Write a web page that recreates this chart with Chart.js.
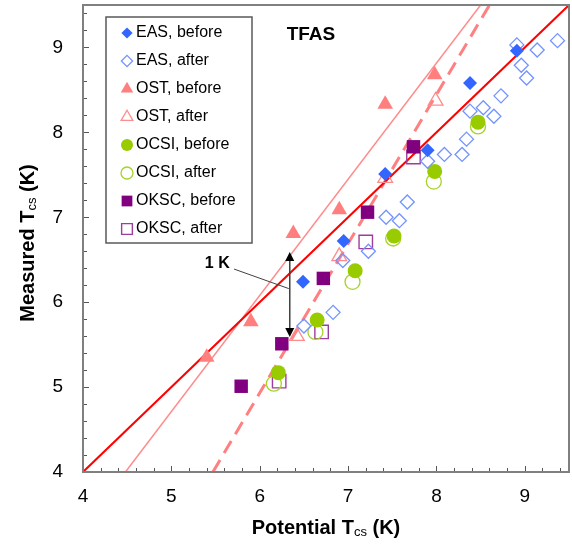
<!DOCTYPE html>
<html>
<head>
<meta charset="utf-8">
<script src="https://cdn.jsdelivr.net/npm/chart.js@4.4.1/dist/chart.umd.min.js"></script>
<style>
  html, body { margin: 0; padding: 0; background: #fff; overflow: hidden; }
  #wrap { width: 572px; height: 548px; }
</style>
</head>
<body>
<div id="wrap"><canvas id="chartTfas"></canvas></div>
<script>
// values: [potential Tcs, measured Tcs] in K
const easBefore = [[6.49, 6.24], [6.95, 6.72], [7.42, 7.51], [7.9, 7.79], [8.38, 8.58], [8.91, 8.96]]
const easAfter = [
  [6.5, 5.72], [6.83, 5.88], [6.94, 6.49], [7.23, 6.6], [7.43, 7.0], [7.58, 6.96],
  [7.67, 7.18], [7.9, 7.66], [8.09, 7.74], [8.29, 7.74], [8.34, 7.92], [8.38, 8.25],
  [8.53, 8.29], [8.65, 8.19], [8.73, 8.43], [8.91, 9.03], [8.96, 8.79], [9.02, 8.64],
  [9.14, 8.97], [9.37, 9.08],
]
const ostBefore = [[5.4, 5.35], [5.9, 5.77], [6.38, 6.81], [6.9, 7.09], [7.42, 8.33], [7.98, 8.68]]
const ostAfter = [[6.42, 5.6], [6.9, 6.54], [7.42, 7.46], [7.99, 8.37]]
const ocsiBefore = [[6.21, 5.17], [6.65, 5.79], [7.08, 6.37], [7.52, 6.78], [7.98, 7.54], [8.47, 8.12]]
const ocsiAfter = [[6.16, 5.04], [6.63, 5.65], [7.05, 6.24], [7.51, 6.75], [7.97, 7.42], [8.47, 8.07]]
const okscBefore = [[5.79, 5.01], [6.25, 5.51], [6.72, 6.28], [7.22, 7.06], [7.74, 7.83]]
const okscAfter = [[6.22, 5.07], [6.7, 5.65], [7.2, 6.71], [7.74, 7.71]]

// reference lines (end points)
const lineIdeal = [[4, 4], [9.5, 9.5]]
const lineThin = [[4.48, 4], [8.5, 9.5]]
const lineDashed = [[5.47, 4], [8.6, 9.5]]

const seriesNames = ['EAS, before', 'EAS, after', 'OST, before', 'OST, after', 'OCSI, before', 'OCSI, after', 'OKSC, before', 'OKSC, after']
const seriesPoints = [easBefore, easAfter, ostBefore, ostAfter, ocsiBefore, ocsiAfter, okscBefore, okscAfter]

const xRange = [4, 9.5]
const yRange = [4, 9.5]

const FONT = "'Liberation Sans', Arial, sans-serif"
const markerStyles = [
  { style: 'rectRot', r: 7, fill: '#3366ff', stroke: '#3366ff', bw: 0 },
  { style: 'rectRot', r: 7, fill: 'rgba(0,0,0,0)', stroke: '#7394ff', bw: 1.3 },
  { style: 'triangle', r: 9, fill: '#ff7f7f', stroke: '#ff7f7f', bw: 0 },
  { style: 'triangle', r: 8.5, fill: 'rgba(0,0,0,0)', stroke: '#ff8c8c', bw: 1.3 },
  { style: 'circle', r: 7.5, fill: '#99cc00', stroke: '#99cc00', bw: 0 },
  { style: 'circle', r: 7.5, fill: 'rgba(0,0,0,0)', stroke: '#a6d22a', bw: 1.3 },
  { style: 'rect', r: 9.5, fill: '#800080', stroke: '#800080', bw: 0 },
  { style: 'rect', r: 9.5, fill: 'rgba(0,0,0,0)', stroke: '#9c3f9c', bw: 1.4 },
]

const toXY = arr => arr.map(([x, y]) => ({ x, y }))

const scatterSets = seriesPoints.map((pts, i) => ({
  type: 'scatter',
  label: seriesNames[i],
  data: toXY(pts),
  pointStyle: markerStyles[i].style,
  pointRadius: markerStyles[i].r,
  pointBackgroundColor: markerStyles[i].fill,
  pointBorderColor: markerStyles[i].stroke,
  pointBorderWidth: markerStyles[i].bw,
}))

const lineSet = (pts, color, width, dash) => ({
  type: 'line',
  data: toXY(pts),
  borderColor: color,
  borderWidth: width,
  borderDash: dash || [],
  pointRadius: 0,
  fill: false,
})

// draw a marker for the legend box
function drawMarker(ctx, m, x, y, scale) {
  const r = m.r * scale
  ctx.beginPath()
  if (m.style === 'circle') {
    ctx.arc(x, y, r, 0, Math.PI * 2)
  } else if (m.style === 'rect') {
    const h = r * Math.SQRT1_2
    ctx.rect(x - h, y - h, 2 * h, 2 * h)
  } else if (m.style === 'rectRot') {
    ctx.moveTo(x, y - r); ctx.lineTo(x + r, y); ctx.lineTo(x, y + r); ctx.lineTo(x - r, y); ctx.closePath()
  } else if (m.style === 'triangle') {
    ctx.moveTo(x, y - r)
    ctx.lineTo(x + r * Math.sin(Math.PI * 2 / 3), y - r * Math.cos(Math.PI * 2 / 3))
    ctx.lineTo(x + r * Math.sin(Math.PI * 4 / 3), y - r * Math.cos(Math.PI * 4 / 3))
    ctx.closePath()
  }
  ctx.fillStyle = m.fill
  ctx.fill()
  if (m.bw > 0) {
    ctx.lineWidth = m.bw
    ctx.strokeStyle = m.stroke
    ctx.stroke()
  }
}

// text with a subscript part, centred on (cx, cy)
function drawSubText(ctx, parts, cx, cy, rotate) {
  ctx.save()
  ctx.translate(cx, cy)
  if (rotate) ctx.rotate(-Math.PI / 2)
  let total = 0
  parts.forEach(p => { ctx.font = p.font; total += ctx.measureText(p.text).width })
  let x = -total / 2
  ctx.textBaseline = 'middle'
  ctx.textAlign = 'left'
  ctx.fillStyle = '#000'
  parts.forEach(p => {
    ctx.font = p.font
    ctx.fillText(p.text, x, p.dy)
    x += ctx.measureText(p.text).width
  })
  ctx.restore()
}

// keep the plot area where it is in the picture: no extra label padding
function fixScale(s, key, size) {
  s[key] = size
  s.paddingTop = 0
  s.paddingBottom = 0
  s.paddingLeft = 0
  s.paddingRight = 0
}

const decorations = {
  id: 'decorations',
  afterDatasetsDraw(chart) {
    const { ctx, chartArea: a, scales: { x, y } } = chart
    ctx.save()

    // inward tick marks every 0.2 K
    ctx.strokeStyle = '#555'
    ctx.lineWidth = 1
    for (let i = 0; i <= 27; i++) {
      const v = 4 + i * 0.2
      const major = Math.abs(v - Math.round(v)) < 1e-6
      const len = major ? 6 : 4
      const px = Math.round(x.getPixelForValue(v)) + 0.5
      ctx.beginPath(); ctx.moveTo(px, a.bottom); ctx.lineTo(px, a.bottom - len); ctx.stroke()
      const py = Math.round(y.getPixelForValue(v)) + 0.5
      ctx.beginPath(); ctx.moveTo(a.left, py); ctx.lineTo(a.left + len, py); ctx.stroke()
    }

    // plot frame
    ctx.strokeStyle = '#808080'
    ctx.lineWidth = 2
    ctx.strokeRect(a.left, a.top, a.right - a.left, a.bottom - a.top)

    // legend box
    const lx = a.left + 23, ly = a.top + 12, lw = 146, lh = 226
    ctx.fillStyle = '#fff'
    ctx.fillRect(lx, ly, lw, lh)
    ctx.strokeStyle = '#5a5a5a'
    ctx.lineWidth = 1.5
    ctx.strokeRect(lx, ly, lw, lh)
    ctx.font = '16px ' + FONT
    ctx.textBaseline = 'middle'
    ctx.textAlign = 'left'
    seriesNames.forEach((name, i) => {
      const cy = ly + 16 + i * 28
      drawMarker(ctx, markerStyles[i], lx + 21, cy, 0.8)
      ctx.fillStyle = '#000'
      ctx.fillText(name, lx + 30, cy)
    })

    // TFAS label
    ctx.fillStyle = '#000'
    ctx.font = 'bold 19px ' + FONT
    ctx.textAlign = 'center'
    ctx.fillText('TFAS', x.getPixelForValue(6.58), y.getPixelForValue(9.15))

    // 1 K arrow
    const ax = x.getPixelForValue(6.34)
    const aTop = y.getPixelForValue(6.59)
    const aBot = y.getPixelForValue(5.59)
    ctx.strokeStyle = '#404040'
    ctx.lineWidth = 1.5
    ctx.beginPath(); ctx.moveTo(ax, aTop + 6); ctx.lineTo(ax, aBot - 6); ctx.stroke()
    ctx.fillStyle = '#000'
    ctx.beginPath(); ctx.moveTo(ax, aTop); ctx.lineTo(ax - 4.5, aTop + 9); ctx.lineTo(ax + 4.5, aTop + 9); ctx.closePath(); ctx.fill()
    ctx.beginPath(); ctx.moveTo(ax, aBot); ctx.lineTo(ax - 4.5, aBot - 9); ctx.lineTo(ax + 4.5, aBot - 9); ctx.closePath(); ctx.fill()

    // leader line and label
    ctx.strokeStyle = '#404040'
    ctx.lineWidth = 1
    ctx.beginPath()
    ctx.moveTo(x.getPixelForValue(5.71), y.getPixelForValue(6.39))
    ctx.lineTo(ax - 1, y.getPixelForValue(6.16))
    ctx.stroke()
    ctx.font = 'bold 16px ' + FONT
    ctx.textAlign = 'right'
    ctx.fillText('1 K', x.getPixelForValue(5.66), y.getPixelForValue(6.45))

    // axis titles with subscript
    const big = 'bold 20px ' + FONT, small = '13px ' + FONT
    drawSubText(ctx, [
      { text: 'Potential T', font: big, dy: 0 },
      { text: 'cs', font: small, dy: 4 },
      { text: ' (K)', font: big, dy: 0 },
    ], (a.left + a.right) / 2, 528, false)
    drawSubText(ctx, [
      { text: 'Measured T', font: big, dy: 0 },
      { text: 'cs', font: small, dy: 4 },
      { text: ' (K)', font: big, dy: 0 },
    ], 28, 243, true)

    ctx.restore()
  },
}

const ctx = document.getElementById('chartTfas').getContext('2d')
new Chart(ctx, {
  data: {
    datasets: [
      ...scatterSets,
      lineSet(lineIdeal, '#ff0000', 2),
      lineSet(lineThin, '#ff8c8c', 1.5),
      lineSet(lineDashed, '#ff8080', 3, [14, 8]),
    ],
  },
  options: {
    responsive: true,
    maintainAspectRatio: false,
    animation: false,
    layout: { autoPadding: false, padding: { top: 5, right: 3, left: 0, bottom: 0 } },
    plugins: { legend: { display: false }, tooltip: { enabled: false } },
    scales: {
      x: {
        type: 'linear',
        min: xRange[0],
        max: xRange[1],
        afterFit: s => fixScale(s, 'height', 76),
        grid: { display: false, drawTicks: false },
        border: { display: false },
        ticks: { stepSize: 1, includeBounds: false, padding: 13, maxRotation: 0, color: '#000', font: { family: FONT, size: 19 } },
      },
      y: {
        type: 'linear',
        min: yRange[0],
        max: yRange[1],
        afterFit: s => fixScale(s, 'width', 83),
        grid: { display: false, drawTicks: false },
        border: { display: false },
        ticks: { stepSize: 1, includeBounds: false, padding: 20, color: '#000', font: { family: FONT, size: 19 } },
      },
    },
  },
  plugins: [decorations],
})
</script>
</body>
</html>
